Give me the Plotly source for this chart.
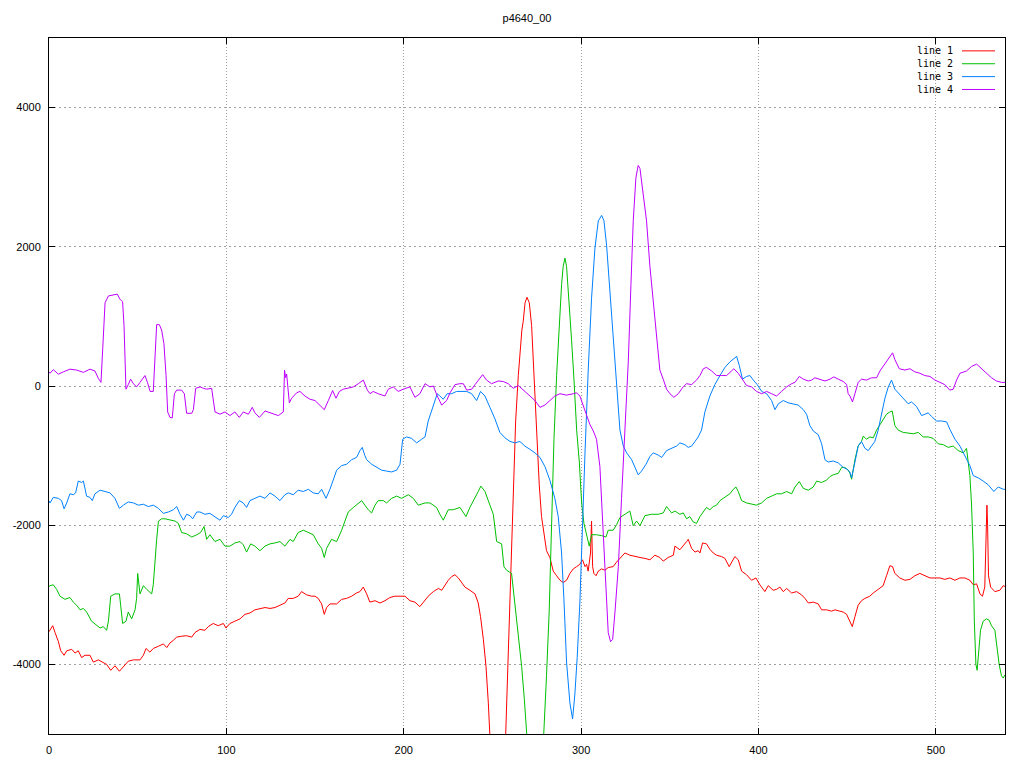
import plotly.graph_objects as go

# ---------------- data ----------------
title_text = "p4640_00"
series_names = ["line 1", "line 2", "line 3", "line 4"]
series_colors = ["#ff0000", "#00c000", "#0080ff", "#c000ff"]
x_ticks = [0, 100, 200, 300, 400, 500]
y_ticks = [-4000, -2000, 0, 2000, 4000]

line1_points = [(0.0,-3530),(0.6,-3510),(2.1,-3444),(3.4,-3542),(5.3,-3673),(6.6,-3804),(8.5,-3869),(10.0,-3804),(12.8,-3784),(14.7,-3837),(16.5,-3804),(18.4,-3902),(20.3,-3869),(23.1,-3869),(25.0,-3967),(27.8,-3935),(30.6,-3967),(32.5,-4000),(34.8,-4085),(37.2,-4020),(39.7,-4098),(41.9,-4033),(44.7,-3954),(47.6,-3935),(49.4,-3935),(51.3,-3935),(53.2,-3869),(54.7,-3771),(56.9,-3824),(58.8,-3771),(61.7,-3739),(64.5,-3706),(66.4,-3758),(68.2,-3693),(70.1,-3654),(72.0,-3608),(74.8,-3595),(77.6,-3588),(80.5,-3608),(82.3,-3542),(85.1,-3497),(87.9,-3510),(89.8,-3457),(92.6,-3412),(95.4,-3444),(98.3,-3412),(99.8,-3477),(102.0,-3412),(104.8,-3379),(107.7,-3346),(110.5,-3281),(113.3,-3261),(116.1,-3216),(118.9,-3196),(121.8,-3183),(124.6,-3196),(127.4,-3183),(130.2,-3150),(133.0,-3118),(134.9,-3052),(137.7,-3052),(140.5,-3020),(142.4,-2954),(145.2,-3000),(148.1,-3020),(150.0,-3020),(151.8,-3052),(153.7,-3131),(155.2,-3281),(156.5,-3183),(158.4,-3131),(162.2,-3131),(165.0,-3065),(167.8,-3052),(170.6,-3020),(173.4,-2974),(175.3,-2954),(177.2,-2889),(179.1,-2987),(180.9,-3105),(183.8,-3085),(186.6,-3118),(189.4,-3085),(192.2,-3039),(195.0,-3020),(197.9,-3020),(200.7,-3020),(203.5,-3085),(206.3,-3105),(209.1,-3170),(211.0,-3105),(213.8,-3020),(216.7,-2954),(219.5,-2909),(221.4,-2935),(223.2,-2856),(225.1,-2791),(227.0,-2739),(228.9,-2712),(230.8,-2758),(232.6,-2824),(234.5,-2889),(237.3,-2935),(240.2,-2987),(242.0,-3118),(243.3,-3314),(244.9,-3641),(246.4,-4033),(247.7,-4556),(248.6,-5000),(250.5,-6200),(253.0,-7400),(255.5,-6600),(257.4,-5000),(258.4,-4360),(259.3,-3510),(260.3,-2726),(261.2,-1941),(262.1,-1157),(263.1,-503),(264.6,150),(265.9,673),(266.6,804),(267.4,935),(268.4,1196),(269.5,1274),(270.8,1196),(272.1,869),(273.4,150),(274.9,-765),(276.4,-1418),(277.7,-1876),(279.0,-2137),(280.5,-2366),(282.4,-2464),(284.3,-2660),(286.2,-2726),(288.1,-2791),(289.9,-2824),(291.8,-2791),(293.7,-2693),(295.6,-2628),(297.5,-2595),(299.3,-2562),(300.8,-2497),(302.2,-2595),(303.1,-2562),(304.0,-2660),(305.3,-2399),(305.9,-1941),(306.5,-2595),(307.2,-2693),(308.4,-2726),(309.7,-2660),(311.6,-2628),(313.4,-2647),(315.3,-2608),(318.1,-2595),(320.0,-2530),(321.9,-2477),(324.7,-2399),(327.5,-2431),(330.3,-2451),(333.2,-2464),(336.0,-2477),(338.8,-2497),(341.6,-2431),(344.4,-2464),(346.3,-2516),(349.1,-2464),(352.0,-2431),(352.9,-2301),(355.7,-2353),(357.6,-2301),(359.5,-2235),(360.4,-2203),(362.3,-2333),(364.2,-2386),(366.0,-2366),(367.0,-2399),(368.5,-2255),(370.7,-2268),(372.6,-2346),(374.5,-2399),(376.4,-2431),(379.2,-2451),(381.1,-2477),(383.5,-2595),(385.4,-2497),(386.7,-2451),(388.6,-2497),(390.5,-2660),(393.3,-2712),(396.1,-2791),(398.6,-2758),(400.8,-2856),(403.6,-2954),(405.5,-2869),(408.3,-2935),(410.2,-2922),(412.1,-2889),(414.0,-2954),(415.9,-2909),(418.7,-2974),(421.5,-2954),(424.3,-3000),(426.2,-3052),(428.1,-3118),(430.9,-3105),(433.7,-3131),(435.6,-3216),(438.4,-3216),(441.2,-3235),(443.1,-3216),(445.9,-3235),(447.8,-3248),(449.7,-3281),(451.5,-3379),(452.9,-3457),(454.4,-3314),(456.2,-3150),(458.1,-3085),(460.0,-3052),(462.8,-3020),(464.7,-2974),(467.5,-2922),(470.3,-2869),(472.2,-2726),(474.1,-2582),(475.6,-2595),(476.9,-2693),(479.7,-2758),(482.6,-2791),(485.4,-2778),(488.2,-2726),(491.0,-2693),(493.8,-2726),(496.7,-2758),(499.5,-2758),(502.3,-2758),(505.1,-2778),(507.9,-2758),(510.8,-2791),(513.6,-2758),(516.4,-2758),(519.2,-2791),(521.1,-2856),(523.0,-2843),(524.9,-2987),(526.3,-3020),(527.6,-2889),(528.2,-2137),(528.8,-1712),(529.2,-2007),(529.7,-2726),(530.9,-2889),(533.3,-2954),(536.1,-2935),(538.0,-2869),(539.0,-2880)]

line2_points = [(0.0,-2880),(0.6,-2869),(2.4,-2856),(4.3,-2922),(6.2,-3020),(9.0,-3065),(11.8,-3039),(13.7,-3105),(15.6,-3150),(17.5,-3216),(19.4,-3196),(21.2,-3248),(24.0,-3379),(26.9,-3444),(28.8,-3477),(30.6,-3457),(32.5,-3510),(33.5,-3379),(34.8,-3020),(37.2,-2987),(39.7,-2987),(40.4,-3150),(41.5,-3412),(43.4,-3379),(44.7,-3248),(46.6,-3346),(48.5,-3216),(49.4,-3052),(50.0,-2693),(51.3,-2987),(53.2,-2869),(55.1,-2922),(57.9,-2987),(58.8,-2856),(59.8,-2464),(60.7,-2203),(61.7,-1941),(63.5,-1908),(65.4,-1908),(68.2,-1928),(71.1,-1941),(72.9,-1974),(74.8,-2105),(77.6,-2124),(80.5,-2170),(83.3,-2137),(85.5,-2105),(87.4,-2020),(88.9,-2203),(90.7,-2137),(93.6,-2235),(96.4,-2203),(99.2,-2301),(102.0,-2301),(104.8,-2255),(107.7,-2235),(109.5,-2281),(111.4,-2386),(113.7,-2268),(116.1,-2301),(118.9,-2366),(121.8,-2301),(124.6,-2268),(127.4,-2255),(130.2,-2235),(133.0,-2301),(135.9,-2203),(137.7,-2235),(140.5,-2105),(143.4,-2072),(146.2,-2105),(149.0,-2137),(151.8,-2268),(153.7,-2333),(155.2,-2464),(156.5,-2333),(159.3,-2203),(162.2,-2235),(165.0,-2072),(166.9,-1941),(168.7,-1810),(171.6,-1745),(174.4,-1680),(176.3,-1647),(178.1,-1712),(180.0,-1778),(181.9,-1824),(183.8,-1712),(185.6,-1647),(188.5,-1647),(190.3,-1680),(193.2,-1614),(196.0,-1582),(198.8,-1614),(202.6,-1562),(205.4,-1614),(208.2,-1712),(212.0,-1680),(214.8,-1680),(218.5,-1745),(220.4,-1843),(222.3,-1928),(225.1,-1778),(227.9,-1778),(231.7,-1745),(233.6,-1810),(235.1,-1876),(237.3,-1745),(240.2,-1614),(242.0,-1516),(243.5,-1438),(245.8,-1516),(248.6,-1712),(250.5,-1843),(252.4,-2235),(255.2,-2268),(256.5,-2595),(258.0,-2647),(260.8,-2693),(262.7,-3118),(264.6,-3575),(266.5,-4033),(268.0,-4500),(269.3,-5000),(271.5,-5800),(274.0,-6300),(276.5,-6000),(278.0,-5500),(279.0,-5000),(280.5,-4163),(282.0,-3248),(283.4,-1941),(284.7,-765),(286.2,150),(287.7,869),(289.0,1457),(289.9,1719),(290.9,1837),(291.8,1719),(293.3,1196),(294.6,673),(296.0,85),(297.5,-634),(299.0,-1092),(300.3,-1680),(301.6,-1974),(303.1,-2137),(304.6,-2301),(305.9,-2137),(308.7,-2137),(311.6,-2150),(314.0,-2170),(315.3,-2072),(318.1,-2072),(320.0,-1993),(321.9,-1889),(324.7,-1843),(327.5,-1797),(329.4,-2007),(331.3,-1941),(333.2,-2007),(336.0,-1863),(339.7,-1843),(343.5,-1843),(346.3,-1824),(348.2,-1732),(351.0,-1824),(352.9,-1797),(355.7,-1843),(357.6,-1824),(359.5,-1908),(361.3,-1876),(363.2,-1954),(365.1,-1974),(367.0,-1876),(368.9,-1810),(370.7,-1745),(372.6,-1778),(374.5,-1732),(376.4,-1712),(378.3,-1647),(380.1,-1614),(382.0,-1582),(383.9,-1549),(385.8,-1484),(387.3,-1451),(388.6,-1516),(390.5,-1647),(393.3,-1680),(396.1,-1693),(398.9,-1712),(401.8,-1680),(404.6,-1614),(407.4,-1582),(410.2,-1549),(413.0,-1549),(415.9,-1516),(418.7,-1549),(420.6,-1451),(423.0,-1373),(425.3,-1471),(428.1,-1497),(430.9,-1451),(432.8,-1366),(435.6,-1386),(438.4,-1353),(440.3,-1301),(442.2,-1275),(445.0,-1255),(446.9,-1170),(448.7,-1170),(450.6,-1209),(451.6,-1255),(452.5,-1340),(454.4,-1059),(456.2,-863),(458.1,-797),(459.1,-719),(460.9,-765),(462.8,-732),(464.7,-745),(466.6,-634),(468.5,-556),(470.3,-471),(472.2,-405),(474.1,-373),(475.4,-359),(476.9,-569),(478.8,-634),(481.6,-667),(484.4,-680),(487.3,-686),(490.1,-667),(492.9,-732),(495.7,-732),(498.5,-752),(501.3,-830),(504.2,-843),(507.0,-882),(509.8,-863),(512.6,-928),(515.5,-961),(517.3,-895),(518.3,-1092),(519.2,-1288),(520.1,-1680),(521.1,-2399),(521.7,-3379),(522.6,-4000),(523.3,-4085),(524.3,-3771),(525.2,-3510),(526.7,-3379),(528.6,-3346),(530.1,-3366),(531.4,-3444),(533.3,-3510),(534.2,-3706),(535.7,-4000),(537.0,-4163),(538.0,-4196),(539.0,-4150)]

line3_points = [(0.0,-1650),(0.6,-1680),(2.4,-1601),(5.3,-1614),(7.1,-1647),(8.5,-1765),(10.0,-1680),(11.8,-1549),(13.7,-1562),(15.0,-1536),(16.5,-1366),(18.4,-1386),(19.4,-1366),(21.2,-1582),(23.1,-1601),(24.4,-1647),(25.9,-1549),(28.8,-1497),(31.6,-1516),(34.4,-1536),(37.2,-1614),(39.7,-1758),(41.9,-1712),(44.7,-1666),(47.6,-1680),(50.4,-1712),(53.2,-1699),(56.0,-1732),(58.8,-1712),(61.7,-1758),(64.5,-1830),(67.3,-1810),(70.1,-1778),(72.0,-1732),(73.9,-1843),(75.8,-1928),(77.6,-1843),(79.5,-1863),(81.0,-1908),(83.3,-1810),(85.1,-1810),(87.9,-1843),(90.7,-1830),(93.6,-1876),(96.4,-1928),(98.3,-1863),(101.1,-1889),(102.9,-1843),(104.8,-1745),(107.3,-1647),(109.5,-1680),(111.4,-1745),(113.3,-1647),(116.1,-1614),(118.9,-1582),(121.8,-1614),(124.6,-1536),(127.4,-1582),(130.2,-1647),(133.0,-1562),(134.9,-1536),(137.7,-1562),(140.5,-1497),(143.4,-1516),(146.2,-1484),(149.0,-1536),(151.8,-1549),(153.7,-1484),(156.2,-1614),(158.4,-1484),(160.3,-1353),(162.2,-1209),(165.0,-1144),(167.8,-1124),(170.6,-1059),(173.4,-1026),(175.3,-930),(176.6,-882),(178.1,-1000),(179.1,-1059),(181.9,-1124),(184.7,-1170),(187.5,-1209),(190.3,-1222),(193.2,-1235),(196.0,-1209),(197.9,-1124),(199.4,-765),(201.6,-732),(204.4,-752),(207.3,-817),(210.1,-765),(212.0,-732),(213.8,-503),(216.7,-274),(218.9,-111),(220.4,-144),(222.3,-190),(224.5,-111),(227.0,-111),(229.8,-78),(232.6,-78),(235.5,-78),(238.3,-111),(241.1,-209),(243.3,-78),(245.8,-144),(248.6,-307),(251.4,-471),(254.2,-667),(257.1,-745),(259.9,-797),(262.7,-817),(265.5,-797),(268.3,-863),(271.1,-909),(274.0,-961),(276.8,-1026),(279.6,-1157),(282.4,-1353),(285.2,-1614),(287.1,-1876),(289.0,-2399),(290.3,-3052),(291.8,-3967),(293.7,-4556),(295.2,-4784),(296.5,-4425),(297.8,-3902),(299.3,-3118),(300.8,-1941),(302.2,-961),(304.0,216),(305.9,1261),(307.8,1980),(309.7,2373),(311.6,2451),(312.9,2373),(314.4,2013),(316.3,1327),(318.1,673),(320.0,-46),(321.9,-634),(323.8,-863),(325.7,-961),(328.5,-1059),(330.3,-1157),(332.2,-1275),(334.1,-1222),(336.6,-1124),(338.8,-1013),(340.7,-961),(343.5,-993),(345.4,-1026),(348.2,-928),(351.0,-895),(353.8,-863),(355.7,-817),(358.5,-843),(360.4,-882),(362.3,-863),(364.2,-797),(366.0,-732),(367.9,-634),(369.8,-373),(372.6,-144),(375.4,20),(378.3,150),(381.1,268),(383.9,346),(386.1,399),(387.7,425),(389.2,294),(391.0,98),(393.3,137),(395.2,150),(397.1,85),(399.3,20),(401.8,-78),(404.6,-111),(407.4,-209),(409.3,-340),(411.2,-255),(414.0,-209),(416.8,-242),(419.6,-255),(422.4,-274),(425.3,-340),(427.1,-405),(429.0,-569),(430.9,-647),(433.7,-699),(435.6,-830),(437.5,-1059),(439.3,-1092),(442.2,-1078),(445.0,-1105),(447.8,-1170),(449.7,-1190),(451.6,-1240),(452.5,-1320),(454.4,-1092),(456.2,-863),(458.1,-797),(460.0,-895),(461.9,-928),(463.8,-863),(465.6,-797),(467.5,-634),(469.4,-405),(471.3,-176),(473.2,-13),(475.0,85),(476.9,-46),(479.4,-111),(481.6,-176),(484.4,-255),(486.3,-229),(489.1,-294),(492.0,-425),(493.8,-405),(495.7,-386),(497.6,-438),(500.4,-503),(503.2,-503),(506.1,-516),(507.9,-621),(510.8,-765),(513.6,-863),(516.4,-993),(519.2,-1144),(521.1,-1288),(523.9,-1320),(526.7,-1366),(529.5,-1418),(532.7,-1516),(535.2,-1451),(538.0,-1484),(539.0,-1484)]

line4_points = [(0.0,200),(0.6,183),(2.4,235),(5.3,170),(8.1,203),(11.8,242),(15.6,229),(19.4,196),(23.1,242),(25.9,216),(27.8,111),(29.3,52),(30.3,542),(31.6,1196),(33.5,1294),(36.3,1307),(38.5,1320),(40.0,1248),(41.5,1209),(42.3,869),(43.4,-46),(44.7,20),(46.0,98),(47.6,33),(49.4,-13),(51.3,52),(54.1,150),(55.5,52),(57.0,-78),(58.8,-78),(59.8,542),(60.7,882),(62.2,882),(63.5,804),(64.8,608),(66.0,150),(66.9,-373),(68.2,-451),(69.5,-458),(70.7,-111),(72.0,-59),(74.8,-59),(76.3,-111),(77.6,-392),(80.5,-392),(81.4,-340),(82.7,-33),(85.2,-13),(87.0,-33),(88.9,-46),(91.7,-33),(92.6,-209),(93.6,-373),(96.4,-405),(99.2,-373),(102.0,-425),(104.8,-373),(107.3,-451),(109.5,-373),(112.4,-405),(114.6,-307),(116.1,-386),(118.6,-451),(121.8,-359),(125.5,-392),(129.3,-425),(132.1,-373),(132.8,229),(133.4,120),(134.0,170),(135.5,-242),(136.8,-176),(139.6,-98),(141.5,-78),(144.3,-144),(147.1,-190),(150.0,-209),(152.8,-274),(155.2,-340),(157.5,-209),(159.9,-65),(161.8,-176),(163.7,-78),(165.9,-46),(168.7,-33),(171.6,-13),(174.4,33),(177.2,85),(179.5,-60),(181.0,-111),(182.8,-78),(185.6,-111),(189.4,-144),(191.3,-46),(194.1,-13),(196.9,-78),(199.7,-46),(203.5,-13),(206.3,-163),(209.1,-111),(212.0,33),(214.8,-13),(216.7,0),(218.9,-144),(221.4,-274),(224.2,-209),(226.1,-98),(228.9,20),(231.7,33),(233.6,33),(235.5,-59),(238.3,-46),(240.2,20),(243.0,118),(244.5,163),(246.7,85),(249.5,33),(253.3,72),(256.1,65),(258.9,33),(261.8,-33),(264.6,7),(267.4,-60),(269.3,-111),(271.1,-144),(274.0,-209),(276.8,-307),(279.6,-274),(282.4,-209),(285.2,-144),(288.1,-111),(291.8,-131),(295.6,-111),(297.5,-98),(299.3,-144),(301.2,-274),(303.1,-405),(305.0,-556),(306.9,-647),(308.7,-765),(310.6,-1157),(312.5,-2072),(314.0,-2987),(315.3,-3542),(316.6,-3673),(317.8,-3641),(319.1,-3248),(321.0,-2595),(322.8,-1614),(324.7,-634),(326.6,346),(328.1,1457),(329.4,2373),(330.9,2993),(332.2,3170),(333.2,3124),(335.0,2765),(336.9,2373),(338.8,1719),(340.7,1196),(342.6,673),(344.4,229),(346.3,98),(348.2,-46),(350.1,-111),(352.3,-163),(354.8,-111),(357.6,-10),(359.5,33),(362.3,20),(365.1,85),(367.0,150),(368.9,248),(370.7,268),(373.6,216),(376.4,150),(379.2,150),(382.0,150),(384.8,216),(386.1,248),(388.6,183),(391.4,85),(393.3,7),(396.1,-13),(398.9,-78),(401.8,-111),(404.6,-78),(407.4,-111),(410.2,-144),(413.0,-78),(415.9,-13),(418.7,33),(420.6,52),(423.0,137),(425.3,98),(428.1,72),(430.0,85),(431.8,118),(434.6,98),(437.5,72),(440.3,98),(442.5,131),(445.0,98),(447.8,65),(449.7,20),(450.6,-111),(451.6,-144),(453.0,-229),(454.4,-111),(456.2,52),(458.1,98),(460.9,85),(463.8,118),(466.6,118),(468.5,216),(471.3,314),(474.1,425),(475.6,477),(476.9,379),(479.4,248),(482.6,229),(485.4,248),(488.2,203),(491.0,183),(493.8,150),(496.7,137),(499.5,85),(502.3,52),(505.1,20),(507.9,-59),(509.8,-46),(511.7,85),(513.6,183),(517.3,216),(520.1,281),(523.0,314),(525.8,248),(528.6,183),(531.4,118),(534.2,72),(537.0,52),(539.0,52)]

all_points = [line1_points, line2_points, line3_points, line4_points]

# ---------------- figure ----------------
fig = go.Figure()
for name, color, pts in zip(series_names, series_colors, all_points):
    fig.add_trace(go.Scatter(
        x=[p[0] for p in pts], y=[p[1] for p in pts],
        mode="lines", name=name,
        line=dict(color=color, width=1),
        hoverinfo="skip", showlegend=False,
    ))

W, H = 1024, 768
L, R, T, B = 49, 19, 38, 27
plot_w = W - L - R
plot_h = H - T - B

tick_font = dict(family="Liberation Sans, Arial, sans-serif", size=11, color="black")

# gnuplot-style key: text right-aligned, sample line to its right
key_rows_px = [51, 64, 77, 90]
text_right_px = 955
sample_x0_px, sample_x1_px = 962, 995
annotations = []
shapes = []
for name, color, ypx in zip(series_names, series_colors, key_rows_px):
    yp = (H - B - ypx) / plot_h
    annotations.append(dict(
        xref="paper", yref="paper", x=(text_right_px - L) / plot_w, y=yp,
        xanchor="right", yanchor="middle", showarrow=False, text=name,
        font=dict(family="DejaVu Sans Mono, monospace", size=10, color="black"),
    ))
    shapes.append(dict(
        type="line", xref="paper", yref="paper",
        x0=(sample_x0_px - L) / plot_w, x1=(sample_x1_px - L) / plot_w,
        y0=yp, y1=yp, line=dict(color=color, width=1),
    ))

fig.update_layout(
    width=W, height=H, autosize=False,
    margin=dict(l=L, r=R, t=T, b=B, pad=0),
    paper_bgcolor="white", plot_bgcolor="white",
    showlegend=False,
    title=dict(text=title_text, x=(L + plot_w / 2) / W, xref="container", xanchor="center",
               y=1 - 18 / H, yref="container", yanchor="middle",
               font=dict(family="Liberation Sans, Arial, sans-serif", size=11, color="black")),
    annotations=annotations, shapes=shapes,
)
fig.update_xaxes(
    range=[0, 539], tickmode="array", tickvals=x_ticks, ticktext=[str(v) for v in x_ticks],
    showgrid=True, gridcolor="#a0a0a0", gridwidth=1, griddash="1px,2px",
    zeroline=False, showline=True, linecolor="black", linewidth=1, mirror="ticks",
    ticks="inside", ticklen=6, tickcolor="black", tickwidth=1,
    tickfont=tick_font, ticklabelstandoff=6,
)
fig.update_yaxes(
    range=[-5000, 5000], tickmode="array", tickvals=y_ticks, ticktext=[str(v) for v in y_ticks],
    showgrid=True, gridcolor="#a0a0a0", gridwidth=1, griddash="2px,3px",
    zeroline=False, showline=True, linecolor="black", linewidth=1, mirror="ticks",
    ticks="inside", ticklen=6, tickcolor="black", tickwidth=1,
    tickfont=tick_font, ticklabelstandoff=5,
)

fig.write_html(
    "out.html",
    config={"displayModeBar": False, "staticPlot": True},
    post_script="document.body.style.margin='0';document.body.style.overflow='hidden';",
)
